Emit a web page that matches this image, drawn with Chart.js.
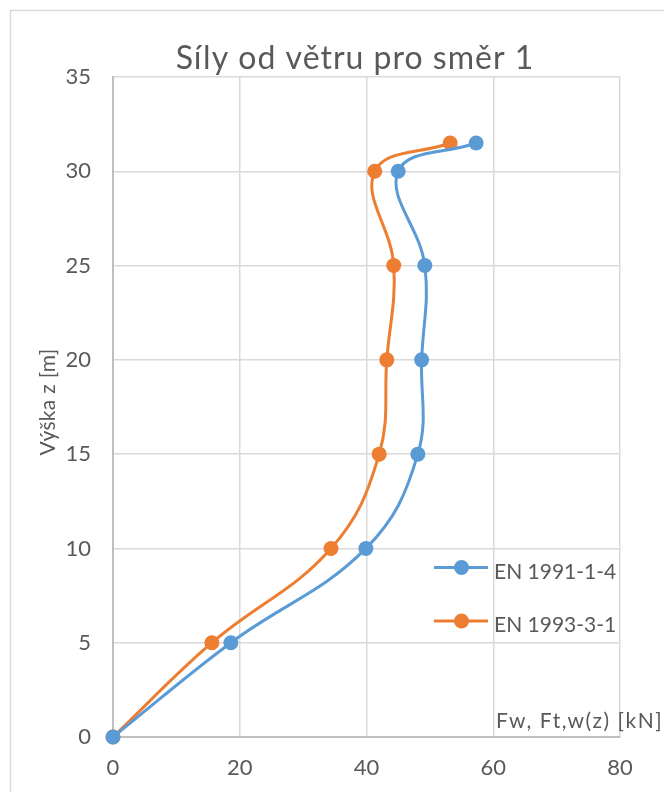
<!DOCTYPE html>
<html>
<head>
<meta charset="utf-8">
<script src="https://cdn.jsdelivr.net/npm/chart.js@4"></script>
<style>
  html, body { margin: 0; padding: 0; background: #ffffff; }
  #wrap { width: 664px; height: 792px; position: relative; }
</style>
</head>
<body>
<div id="wrap"><canvas id="c" width="664" height="792"></canvas></div>
<script>
// Wind force profile along the height
const chartTitle = 'Síly od větru pro směr 1';
const xTitle = 'Fw, Ft,w(z) [kN]';
const yTitle = 'Výška z [m]';
const seriesNames = ['EN 1991-1-4', 'EN 1993-3-1'];
const heights = [0, 5, 10, 15, 20, 25, 30, 31.5];
const forcesEN1991 = [0, 18.6, 39.9, 48.1, 48.7, 49.2, 45.0, 57.3];
const forcesEN1993 = [0, 15.6, 34.4, 42.0, 43.2, 44.3, 41.3, 53.2];
const xTicks = [0, 20, 40, 60, 80];
const yTicks = [0, 5, 10, 15, 20, 25, 30, 35];

const FONT = 'Lato, "Open Sans", sans-serif';
const TEXT = '#595959';
const BLUE = '#5b9bd5';
const ORANGE = '#ed7d31';

function toPoints(xs, ys) {
  return xs.map((x, i) => ({ x: x, y: ys[i] }));
}

function spacedText(ctx, text, x, y, spacing) {
  if ('letterSpacing' in ctx) {
    ctx.letterSpacing = spacing + 'px';
    ctx.fillText(text, x, y);
    ctx.letterSpacing = '0px';
  } else {
    ctx.fillText(text, x, y);
  }
}

const decorations = {
  id: 'decorations',
  beforeDraw(chart) {
    const ctx = chart.ctx;
    ctx.save();
    ctx.fillStyle = '#ffffff';
    ctx.fillRect(0, 0, chart.width, chart.height);
    ctx.strokeStyle = '#d9d9d9';
    ctx.lineWidth = 1.5;
    ctx.strokeRect(10.5, 10.5, chart.width + 20, chart.height + 20);
    ctx.restore();
  },
  afterDatasetsDraw(chart) {
    const ctx = chart.ctx;
    ctx.save();
    ctx.fillStyle = TEXT;
    ctx.textBaseline = 'alphabetic';

    // title
    ctx.font = '32px ' + FONT;
    ctx.textAlign = 'center';
    spacedText(ctx, chartTitle, 355, 69, 1);

    // y axis title
    ctx.save();
    ctx.translate(55, 402);
    ctx.rotate(-Math.PI / 2);
    ctx.font = '21px ' + FONT;
    ctx.textAlign = 'center';
    spacedText(ctx, yTitle, 0, 0, 0.3);
    ctx.restore();

    // x axis title
    ctx.font = '21px ' + FONT;
    ctx.textAlign = 'left';
    spacedText(ctx, xTitle, 496, 728, 1.5);

    // legend
    const rows = [567.5, 621];
    chart.data.datasets.forEach((ds, i) => {
      const y = rows[i];
      ctx.strokeStyle = ds.borderColor;
      ctx.lineWidth = 3;
      ctx.beginPath();
      ctx.moveTo(434, y);
      ctx.lineTo(488, y);
      ctx.stroke();
      ctx.fillStyle = ds.backgroundColor;
      ctx.beginPath();
      ctx.arc(461.5, y, 7.5, 0, Math.PI * 2);
      ctx.fill();
      ctx.fillStyle = TEXT;
      ctx.font = '21px ' + FONT;
      ctx.textAlign = 'left';
      ctx.fillText(ds.label, 494, y + 11);
    });
    ctx.restore();
  }
};

const dataset = (label, xs, color) => ({
  label: label,
  data: toPoints(xs, heights),
  showLine: true,
  borderColor: color,
  backgroundColor: color,
  borderWidth: 3,
  pointRadius: 7.5,
  pointHoverRadius: 7.5,
  pointBorderWidth: 0,
  tension: 0.4,
  clip: false
});

new Chart(document.getElementById('c'), {
  type: 'scatter',
  data: {
    datasets: [
      dataset(seriesNames[0], forcesEN1991, BLUE),
      dataset(seriesNames[1], forcesEN1993, ORANGE)
    ]
  },
  options: {
    responsive: false,
    animation: false,
    events: [],
    layout: { padding: { top: 77, right: 44, left: 0, bottom: 0 } },
    plugins: {
      legend: { display: false },
      title: { display: false },
      tooltip: { enabled: false }
    },
    scales: {
      x: {
        type: 'linear',
        min: 0, max: 80,
        afterFit(scale) { scale.height = 55; },
        afterBuildTicks(scale) { scale.ticks = xTicks.map(v => ({ value: v })); },
        grid: { color: '#d9d9d9', lineWidth: 1.5, drawTicks: false },
        border: { color: '#bfbfbf', width: 2 },
        ticks: { color: TEXT, font: { family: FONT, size: 22 }, padding: 18 }
      },
      y: {
        type: 'linear',
        min: 0, max: 35,
        afterFit(scale) { scale.width = 113; },
        afterBuildTicks(scale) { scale.ticks = yTicks.map(v => ({ value: v })); },
        grid: { color: '#d9d9d9', lineWidth: 1.5, drawTicks: false },
        border: { color: '#bfbfbf', width: 2 },
        ticks: { color: TEXT, font: { family: FONT, size: 22 }, padding: 22 }
      }
    }
  },
  plugins: [decorations]
});
</script>
</body>
</html>
